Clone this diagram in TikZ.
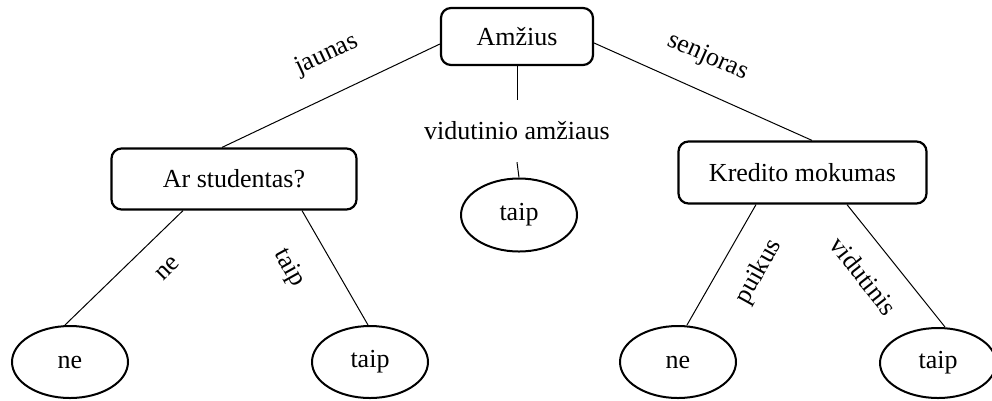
\documentclass[tikz,border=0pt]{standalone}
\usepackage{fontspec}
\setmainfont{Liberation Serif}
\usetikzlibrary{shapes.geometric}
\begin{document}
\begin{tikzpicture}[x=1pt,y=-1pt,
  font=\fontsize{26}{31}\selectfont,
  decision/.style={draw,line width=2.2pt,rounded corners=10pt,inner sep=0pt},
  leaf/.style={draw,ellipse,line width=2pt,inner sep=0pt,minimum width=116pt,minimum height=72pt},
  conn/.style={line width=1pt},
  lbl/.style={inner sep=0pt}]
\useasboundingbox (0,0) rectangle (992,400);
% decision nodes
\node[decision,minimum width=152pt,minimum height=57pt] (A) at (517,36.5) {Amžius};
\node[decision,minimum width=245pt,minimum height=61pt] (S) at (234,179) {Ar studentas?};
\node[decision,minimum width=248pt,minimum height=62pt] (K) at (802.5,172.5) {Kredito mokumas};
% leaves
\node[leaf,minimum height=73pt] (M) at (519,215) {taip};
\node[leaf] (L1) at (70,362) {ne};
\node[leaf] (L2) at (370,362) {taip};
\node[leaf] (L3) at (678,362) {ne};
\node[leaf,minimum height=70pt] (L4) at (938,363) {taip};
% middle label
\node[lbl,minimum height=62pt] (V) at (517,131) {vidutinio amžiaus};
% connectors
\draw[conn] ([yshift=-7.5pt]A.west) -- ([xshift=-12pt]S.north);
\draw[conn] ([yshift=-6.5pt]A.east) -- ([xshift=9.5pt]K.north);
\draw[conn] (A.south) -- (V.north);
\draw[conn] (V.south) -- (M.north);
\draw[conn] ([xshift=-51pt]S.south) -- ([xshift=-5pt]L1.north);
\draw[conn] ([xshift=68pt]S.south) -- ([xshift=-2pt]L2.north);
\draw[conn] ([xshift=-46.5pt]K.south) -- ([xshift=9pt]L3.north);
\draw[conn] ([xshift=44.5pt]K.south) -- ([xshift=7pt]L4.north);
% edge labels
\node[lbl,rotate=25] (jaunas) at (327,55) {jaunas};
\node[lbl,rotate=-24] (senjoras) at (708,57) {senjoras};
\node[lbl,rotate=45] (ne1) at (168,269) {ne};
\node[lbl,rotate=-61] (taip1) at (289,268) {taip};
\node[lbl,rotate=61] (puikus) at (759,272) {puikus};
\node[lbl,rotate=-52] (vid) at (864,276) {vidutinis};
\end{tikzpicture}
\end{document}
